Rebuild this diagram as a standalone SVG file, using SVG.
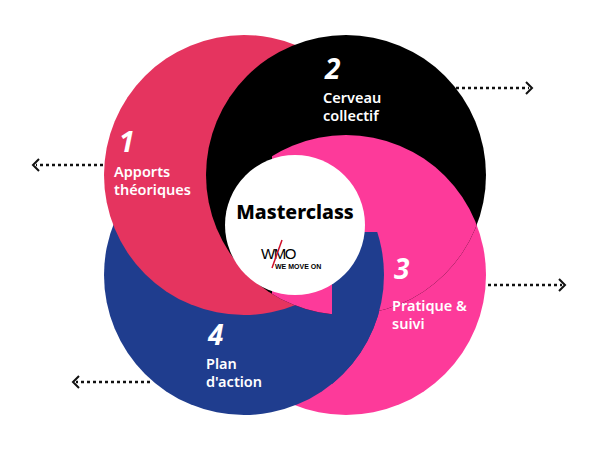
<svg xmlns="http://www.w3.org/2000/svg" width="600" height="450" viewBox="0 0 600 450">
<style>
.t{font-family:"Noto Sans","Liberation Sans",sans-serif;font-weight:600;font-size:14.5px;fill:#fff}
.n{font-family:"Noto Sans","Liberation Sans",sans-serif;font-weight:700;font-style:italic;font-size:28px;fill:#fff}
.c{stroke:#111;stroke-width:2.5;stroke-dasharray:3 3;fill:none}
.h{stroke:#111;stroke-width:2;fill:none}
</style>
<defs>
<clipPath id="pclip"><rect x="272" y="0" width="330" height="320"/></clipPath>
<clipPath id="kclip"><circle cx="346" cy="175" r="140"/></clipPath>
<clipPath id="bclip"><rect x="332" y="232" width="200" height="200"/></clipPath>
</defs>
<g id="nodes">
<g id="n3"><circle cx="346" cy="275" r="140" fill="#fd3a9a"/></g>
<g id="n4"><circle cx="244" cy="275" r="140" fill="#1f3d8e"/></g>
<g id="n1"><circle cx="244" cy="175" r="140" fill="#e5345f"/></g>
<g id="n2"><circle cx="346" cy="175" r="140" fill="#000"/></g>
<g clip-path="url(#kclip)"><circle cx="346" cy="275" r="140" fill="#fd3a9a" clip-path="url(#pclip)"/></g>
<circle cx="244" cy="275" r="140" fill="#1f3d8e" clip-path="url(#bclip)"/>
<g id="center"><circle cx="295" cy="225" r="70" fill="#fff"/>
<text x="295" y="219" text-anchor="middle" style="font-family:'Noto Sans','Liberation Sans',sans-serif;font-weight:800;font-size:19.5px;fill:#000">Masterclass</text>
<text x="261" y="259" style="font-family:'Liberation Sans',sans-serif;font-size:15px;fill:#000;letter-spacing:-1.5px">WMO</text>
<line x1="282" y1="240" x2="272" y2="268" stroke="#d0102a" stroke-width="1.5"/>
<text x="275" y="269" style="font-family:'Liberation Sans',sans-serif;font-weight:700;font-size:7px;fill:#000">WE MOVE ON</text>
</g>
<text class="n" x="119" y="152">1</text>
<text class="t" x="114" y="177">Apports</text>
<text class="t" x="114" y="195">théoriques</text>
<text class="n" x="325" y="79">2</text>
<text class="t" x="323" y="103">Cerveau</text>
<text class="t" x="323" y="121">collectif</text>
<text class="n" x="394" y="279">3</text>
<text class="t" x="392" y="311">Pratique &amp;</text>
<text class="t" x="392" y="329">suivi</text>
<text class="n" x="208" y="345">4</text>
<text class="t" x="206" y="369">Plan</text>
<text class="t" x="206" y="387">d'action</text>
</g>
<g id="connectors">
<line class="c" x1="456" y1="88" x2="529" y2="88"/><path class="h" d="M526 82 L532 88 L526 94"/>
<line class="c" x1="103" y1="165" x2="36" y2="165"/><path class="h" d="M39 159 L33 165 L39 171"/>
<line class="c" x1="488" y1="285" x2="562" y2="285"/><path class="h" d="M559 279 L565 285 L559 291"/>
<line class="c" x1="150" y1="382" x2="76" y2="382"/><path class="h" d="M79 376 L73 382 L79 388"/>
</g>
</svg>
